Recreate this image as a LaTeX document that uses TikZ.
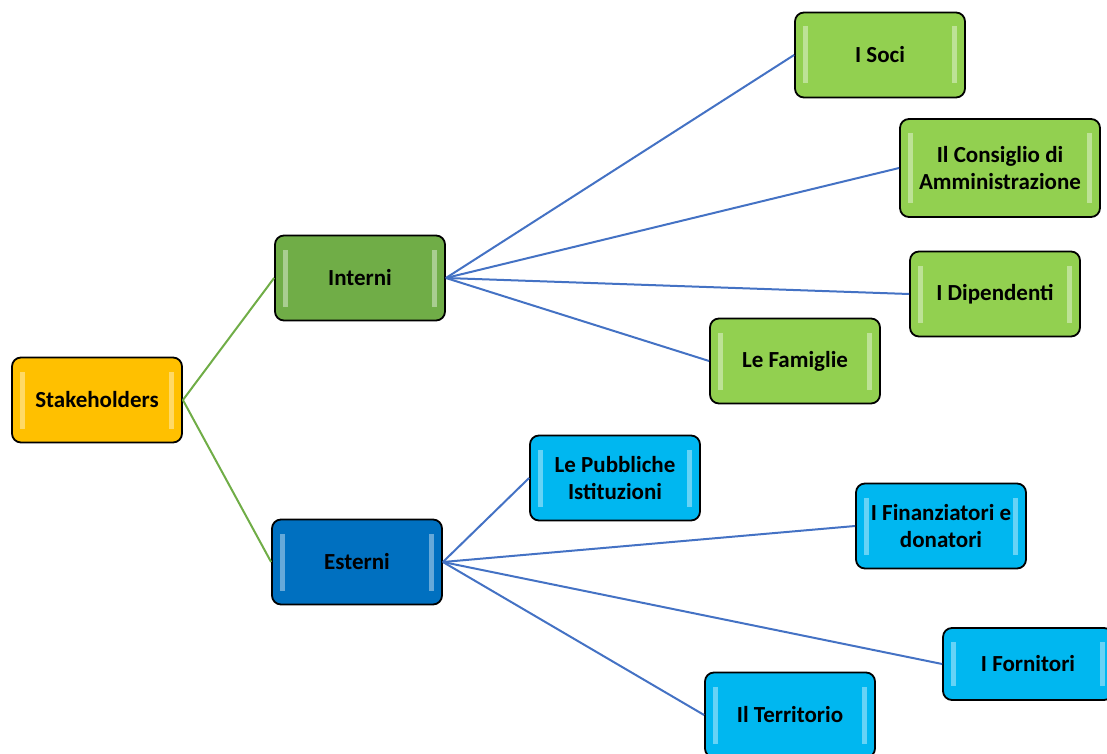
\documentclass[tikz,border=0pt]{standalone}
\usepackage{fontspec}
\setmainfont{Carlito}

\definecolor{rootfill}{HTML}{FFC000}
\definecolor{intfill}{HTML}{70AD47}
\definecolor{extfill}{HTML}{0070C0}
\definecolor{leafgreen}{HTML}{92D050}
\definecolor{leafblue}{HTML}{00B7F0}
\definecolor{linkblue}{HTML}{4472C4}
\definecolor{linkgreen}{HTML}{70AD47}

\tikzset{
  box/.style={draw=black, line width=1.8pt, rounded corners=9pt, align=center,
    minimum width=170pt, minimum height=85pt, inner sep=2pt,
    font=\bfseries\fontsize{23}{27}\selectfont,
    path picture={
      \fill[white, opacity=0.4, rounded corners=0pt]
        ([xshift=8pt,yshift=-14pt]path picture bounding box.north west) rectangle
        ([xshift=13pt,yshift=14pt]path picture bounding box.south west);
      \fill[white, opacity=0.4, rounded corners=0pt]
        ([xshift=-13pt,yshift=-14pt]path picture bounding box.north east) rectangle
        ([xshift=-8pt,yshift=14pt]path picture bounding box.south east);
    }},
  rootbox/.style={box, fill=rootfill},
  intbox/.style={box, fill=intfill},
  extbox/.style={box, fill=extfill},
  leafg/.style={box, fill=leafgreen},
  leafb/.style={box, fill=leafblue},
  linkg/.style={linkgreen, line width=2pt},
  linkb/.style={linkblue, line width=2pt}
}

\begin{document}
\begin{tikzpicture}[x=1pt, y=-1pt]

\useasboundingbox (0,0) rectangle (1107,754);
\clip (0,0) rectangle (1107,754);

% Root
\node[rootbox] (stake) at (97,400) {Stakeholders};

% Two groups
\node[intbox] (interni) at (360,278) {Interni};
\node[extbox] (esterni) at (357,562) {Esterni};

% Internal stakeholders
\node[leafg] (soci) at (880,55) {I Soci};
\node[leafg, minimum width=200pt, minimum height=98pt] (consiglio) at (1000,168) {Il Consiglio di\\Amministrazione};
\node[leafg] (dipendenti) at (995,294) {I Dipendenti};
\node[leafg] (famiglie) at (795,361) {Le Famiglie};

% External stakeholders
\node[leafb] (istituzioni) at (615,478) {Le Pubbliche\\Istituzioni};
\node[leafb] (finanziatori) at (941,526) {I Finanziatori e\\donatori};
\node[leafb, minimum height=72pt] (fornitori) at (1028,664) {I Fornitori};
\node[leafb] (territorio) at (790,715) {Il Territorio};

% Connectors
\draw[linkg] (stake.east) -- (interni.west);
\draw[linkg] (stake.east) -- (esterni.west);

\foreach \leaf in {soci, consiglio, dipendenti, famiglie}
  \draw[linkb] (interni.east) -- (\leaf.west);

\foreach \leaf in {istituzioni, finanziatori, fornitori, territorio}
  \draw[linkb] (esterni.east) -- (\leaf.west);

\end{tikzpicture}
\end{document}
